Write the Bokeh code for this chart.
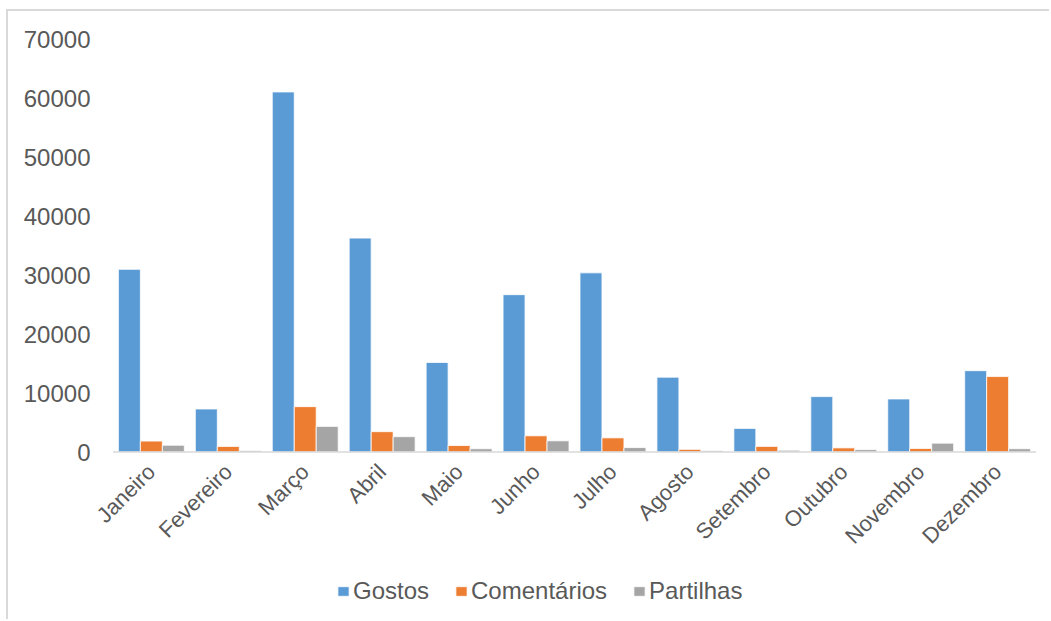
from math import pi

from bokeh.embed import file_html
from bokeh.models import ColumnDataSource, FactorRange, FixedTicker, Legend, LegendItem, Range1d
from bokeh.plotting import figure
from bokeh.resources import INLINE
from bokeh.transform import dodge

# Monthly engagement figures
months = ["Janeiro", "Fevereiro", "Março", "Abril", "Maio", "Junho",
          "Julho", "Agosto", "Setembro", "Outubro", "Novembro", "Dezembro"]
gostos = [31000, 7300, 61100, 36300, 15200, 26700, 30400, 12700, 4000, 9400, 9000, 13800]
comentarios = [1850, 950, 7700, 3450, 1100, 2750, 2400, 450, 950, 700, 600, 12800]
partilhas = [1150, 250, 4350, 2600, 550, 1900, 750, 250, 300, 400, 1500, 550]
series_names = ["Gostos", "Comentários", "Partilhas"]
y_ticks = [0, 10000, 20000, 30000, 40000, 50000, 60000, 70000]

FONT = "Liberation Sans"
TEXT = "#595959"
GRID = "#D9D9D9"
colors = ["#5B9BD5", "#ED7D31", "#A5A5A5"]

source = ColumnDataSource(dict(month=months, g=gostos, c=comentarios, p=partilhas))

# The frame runs to the bottom of the canvas; the value axis below zero is
# left empty so the rotated month names and the legend sit inside it.
H, TOP = 610, 28
ZERO_PX = 440.5
y_max = y_ticks[-1]
y_min = -(H - ZERO_PX) / (ZERO_PX - TOP) * y_max

p = figure(
    x_range=FactorRange(*months, range_padding=0.2, range_padding_units="absolute"),
    y_range=Range1d(y_min, y_max),
    width=1043, height=H,
    output_backend="svg", toolbar_location=None,
    min_border_left=89, min_border_right=0,
    min_border_top=TOP, min_border_bottom=0,
)
p.margin = (9, 0, 0, 6)
p.styles = {"border-top": f"2px solid {GRID}", "border-left": f"2px solid {GRID}"}

bar_w = 1 / 3.5
renderers = []
for i, (col, color) in enumerate(zip(["g", "c", "p"], colors)):
    r = p.vbar(x=dodge("month", (i - 1) * bar_w, range=p.x_range), top=col,
               width=bar_w, source=source, fill_color=color,
               line_color="white", line_width=0.8)
    renderers.append(r)

# category baseline from the first to the last month
base = ColumnDataSource(dict(x0=[months[0]], x1=[months[-1]], y=[0]))
p.segment(x0=dodge("x0", -0.5, range=p.x_range), x1=dodge("x1", 0.5, range=p.x_range),
          y0="y", y1="y", source=base, line_color=GRID, line_width=1.6)

p.outline_line_color = None
p.xgrid.grid_line_color = None
p.ygrid.grid_line_color = None
p.background_fill_color = "white"
p.border_fill_color = "white"

# y axis: labels only
ya = p.yaxis[0]
ya.ticker = FixedTicker(ticks=y_ticks)
ya.axis_line_color = None
ya.major_tick_line_color = None
ya.minor_tick_line_color = None
ya.major_tick_out = 0
ya.major_label_standoff = 7
ya.major_label_text_font = FONT
ya.major_label_text_font_size = "24px"
ya.major_label_text_color = TEXT

# x axis at zero with rotated month names
xa = p.xaxis[0]
xa.fixed_location = 0
xa.axis_line_color = None
xa.major_tick_line_color = None
xa.minor_tick_line_color = None
xa.major_tick_out = 0
xa.major_label_orientation = pi / 4
xa.major_label_standoff = 16
xa.major_label_text_font = FONT
xa.major_label_text_font_size = "22px"
xa.major_label_text_color = TEXT

legend = Legend(
    items=[LegendItem(label=n, renderers=[r]) for n, r in zip(series_names, renderers)],
    orientation="horizontal",
    location=(239, 16),
    glyph_width=14, glyph_height=12,
    label_standoff=3, spacing=25,
    padding=0, margin=0,
    border_line_color=None, background_fill_alpha=0,
    label_text_font=FONT, label_text_font_size="24px", label_text_color=TEXT,
)
p.add_layout(legend, "center")

open("out.html", "w").write(file_html(p, INLINE))
